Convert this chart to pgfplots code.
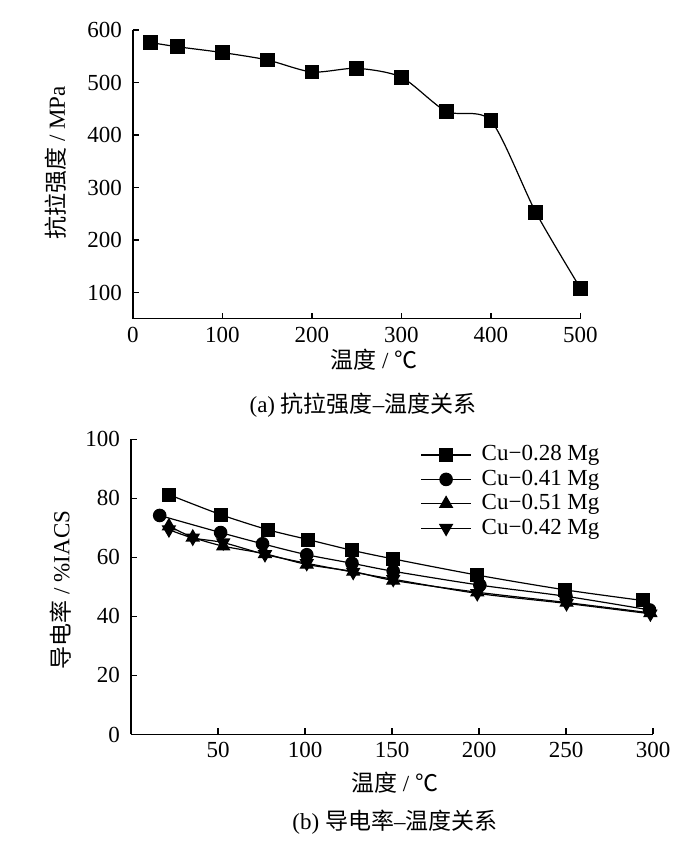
\documentclass[border=0pt]{standalone}
\usepackage{pgfplots}
\pgfplotsset{compat=1.18}
\usepackage{fontspec}
\setmainfont{Liberation Serif}
\newfontfamily\cjk{Noto Sans CJK SC}
\begin{document}
\fontsize{11.5pt}{13pt}\selectfont
\begin{tikzpicture}
\useasboundingbox (0,0) rectangle (350pt,428.5pt);
\pgfplotsset{
  every axis/.append style={
    scale only axis,
    axis x line*=bottom, axis y line*=left,
    axis line style={-, line width=0.6pt},
    tick align=inside,
    major tick length=3pt,
    every tick/.style={black, line width=0.6pt},
    /pgf/number format/assume math mode=true,
    tick label style={font=\fontsize{11.5pt}{13pt}\selectfont},
    yticklabel style={xshift=-1.5pt},
    label style={font=\fontsize{11.5pt}{13pt}\selectfont},
  },
}
% (a)
\begin{axis}[
  at={(66.5pt,269.1pt)}, anchor=south west,
  width=223.75pt, height=144.4pt,
  xmin=0, xmax=500, ymin=50, ymax=600,
  xtick={0,100,200,300,400,500},
  ytick={100,200,300,400,500,600},
  xlabel={{\cjk 温度} / {\cjk ℃}},
  ylabel={{\cjk 抗拉强度} / MPa},
  xlabel style={at={(axis description cs:0.538,0)}, anchor=center, yshift=-20.6pt},
  ylabel style={at={(axis description cs:-0.172,0.54)}, anchor=center},
]
\addplot[black, line width=0.6pt, smooth, tension=0.45, mark=square*, mark size=3.4pt, mark options={solid}]
coordinates {(20,576) (50,568) (100,557) (150,543) (200,520) (250,527) (300,510) (350,445) (400,427) (450,253) (500,108)};
\end{axis}
\node at (181.5pt,226pt) {(a) {\cjk 抗拉强度}–{\cjk 温度关系}};
% (b)
\begin{axis}[
  at={(65.5pt,61.25pt)}, anchor=south west,
  width=261pt, height=147.6pt,
  xmin=0, xmax=300, ymin=0, ymax=100,
  xtick={50,100,150,200,250,300},
  ytick={0,20,40,60,80,100},
  xlabel={{\cjk 温度} / {\cjk ℃}},
  ylabel={{\cjk 导电率} / \%IACS},
  xlabel style={at={(axis description cs:0.505,0)}, anchor=center, yshift=-24pt},
  ylabel style={at={(axis description cs:-0.135,0.49)}, anchor=center},
  legend style={draw=none, fill=none, at={(axis description cs:0.55,1.0)}, anchor=north west,
    font=\fontsize{11.5pt}{13pt}\selectfont, row sep=-1.2pt, inner sep=1pt},
  legend cell align=left,
  legend image code/.code={\draw[mark repeat=2,mark phase=2] plot coordinates {(0pt,0pt) (12.5pt,0pt) (25pt,0pt)}; \path (28pt,0pt);},
]
\addplot[black, line width=0.6pt, smooth, mark=square*, mark size=3.2pt]
coordinates {(22,81.2) (51.5,74.5) (78.5,69.4) (102,66) (127,62.4) (150.5,59.5) (199,54) (249.5,49) (294,45.4)};
\addlegendentry{Cu−0.28 Mg}
\addplot[black, line width=0.6pt, smooth, mark=*, mark size=3.1pt]
coordinates {(16.5,74.2) (51.5,68.4) (75.6,64.6) (101,60.9) (127,58) (150.7,55.3) (200.5,50.6) (250,46.8) (298,42.2)};
\addlegendentry{Cu−0.41 Mg}
\addplot[black, line width=0.6pt, smooth, mark=triangle*, mark size=3.6pt]
coordinates {(21.8,70.6) (35.5,66.8) (53,63.8) (77,61.2) (101,57.6) (127.7,55.2) (150.7,52.2) (199,48.2) (250.3,44.7) (298.5,41.2)};
\addlegendentry{Cu−0.51 Mg}
\addplot[black, line width=0.6pt, smooth, mark=triangle*, mark size=3.6pt, mark options={rotate=180}]
coordinates {(21.8,69.4) (35.5,66.6) (53,65) (77,61) (101,58) (127.7,55) (150.7,52.6) (199,47.8) (250.3,44.4) (298.5,40.9)};
\addlegendentry{Cu−0.42 Mg}
\end{axis}
\node at (197.5pt,17.5pt) {(b) {\cjk 导电率}–{\cjk 温度关系}};
\end{tikzpicture}
\end{document}
